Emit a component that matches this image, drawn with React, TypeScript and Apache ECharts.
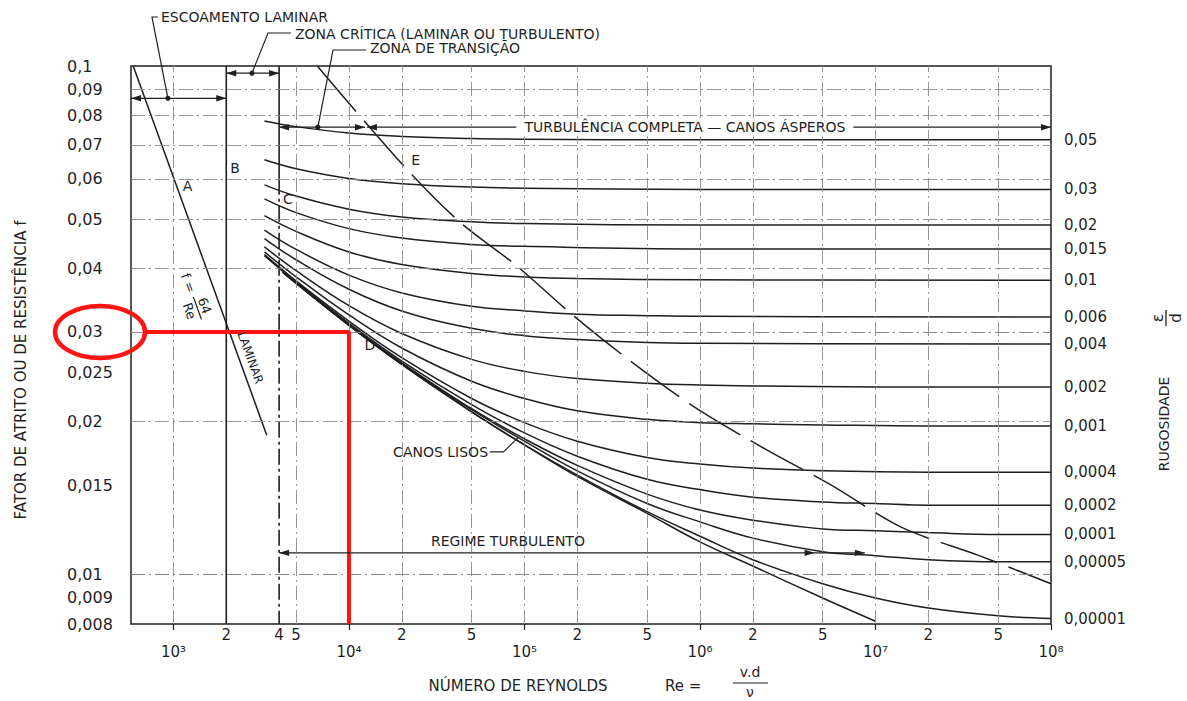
import React, { useEffect, useRef } from "react";
import * as echarts from "echarts";

// ---------- axes ----------
const RE_MIN = 573;
const RE_MAX = 1e8;
const F_MIN = 0.008;
const F_MAX = 0.1;

const fTickValues = [0.008, 0.009, 0.01, 0.015, 0.02, 0.025, 0.03, 0.04, 0.05, 0.06, 0.07, 0.08, 0.09, 0.1];
const reMinorLabels = [2000, 4000, 5000, 2e4, 5e4, 2e5, 5e5, 2e6, 5e6, 2e7, 5e7];
const rePowerLabels = [1e3, 1e4, 1e5, 1e6, 1e7, 1e8];
const fGridLines = [0.009, 0.01, 0.015, 0.02, 0.025, 0.03, 0.04, 0.05, 0.06, 0.07, 0.08, 0.09];
const reGridLines = [1e3, 5e3, 1e4, 2e4, 5e4, 1e5, 2e5, 5e5, 1e6, 2e6, 5e6, 1e7, 2e7, 5e7];

// ---------- relative roughness curves [Re, f] ----------
const roughnessLabels = ["0,05", "0,03", "0,02", "0,015", "0,01", "0,006", "0,004", "0,002", "0,001", "0,0004", "0,0002", "0,0001", "0,00005", "0,00001"];
const rough0050 = [[3300, 0.078], [5000, 0.076], [1e4, 0.0738], [2e4, 0.0727], [5e4, 0.072], [1e5, 0.0718], [1e6, 0.0716], [1e8, 0.0716]];
const rough0030 = [[3300, 0.0654], [5000, 0.0628], [1e4, 0.0601], [2e4, 0.0587], [5e4, 0.0578], [1e5, 0.0575], [1e6, 0.0572], [1e8, 0.0572]];
const rough0020 = [[3300, 0.0584], [5000, 0.0555], [1e4, 0.0523], [2e4, 0.0505], [5e4, 0.0494], [1e5, 0.049], [1e6, 0.0487], [1e8, 0.0487]];
const rough0015 = [[3300, 0.0548], [5000, 0.0515], [1e4, 0.0479], [2e4, 0.0459], [5e4, 0.0446], [1e5, 0.0442], [1e6, 0.0437], [1e8, 0.0437]];
const rough0010 = [[3300, 0.0508], [5000, 0.0473], [1e4, 0.0431], [2e4, 0.0407], [5e4, 0.0391], [1e5, 0.0385], [2e5, 0.0382], [1e6, 0.038], [1e8, 0.0379]];
const rough0006 = [[3300, 0.0476], [5000, 0.0436], [1e4, 0.0388], [2e4, 0.0358], [5e4, 0.0337], [1e5, 0.033], [2e5, 0.0325], [5e5, 0.0323], [1e6, 0.0322], [1e8, 0.0321]];
const rough0004 = [[3300, 0.0458], [5000, 0.0416], [1e4, 0.0364], [2e4, 0.033], [5e4, 0.0305], [1e5, 0.0295], [2e5, 0.029], [5e5, 0.0286], [1e6, 0.0285], [1e8, 0.0284]];
const rough0002 = [[3300, 0.0441], [5000, 0.0396], [1e4, 0.0338], [2e4, 0.0298], [5e4, 0.0265], [1e5, 0.0251], [2e5, 0.0243], [5e5, 0.0238], [1e6, 0.0236], [2e6, 0.0235], [1e7, 0.0234], [1e8, 0.0234]];
const rough0001 = [[3300, 0.0431], [5000, 0.0385], [1e4, 0.0324], [2e4, 0.0279], [5e4, 0.024], [1e5, 0.0222], [2e5, 0.021], [5e5, 0.0202], [1e6, 0.0199], [2e6, 0.0198], [5e6, 0.0197], [2e7, 0.0196], [1e8, 0.0196]];
const rough00004 = [[3300, 0.0426], [5000, 0.0378], [1e4, 0.0315], [2e4, 0.0267], [5e4, 0.0222], [1e5, 0.0199], [2e5, 0.0183], [5e5, 0.017], [1e6, 0.0165], [2e6, 0.0162], [5e6, 0.016], [2e7, 0.0159], [1e8, 0.0159]];
const rough00002 = [[3300, 0.0424], [5000, 0.0376], [1e4, 0.0312], [2e4, 0.0263], [5e4, 0.0216], [1e5, 0.019], [2e5, 0.0171], [5e5, 0.0154], [1e6, 0.0147], [2e6, 0.0142], [5e6, 0.0139], [1e7, 0.0138], [2e7, 0.0137], [1e8, 0.0137]];
const rough00001 = [[4200, 0.0394], [5000, 0.0374], [1e4, 0.031], [2e4, 0.0261], [5e4, 0.0212], [1e5, 0.0185], [2e5, 0.0164], [5e5, 0.0144], [1e6, 0.0134], [2e6, 0.0128], [5e6, 0.0123], [1e7, 0.0122], [2e7, 0.0121], [5e7, 0.012], [1e8, 0.012]];
const rough000005 = [[4200, 0.0394], [5000, 0.0374], [1e4, 0.031], [2e4, 0.026], [5e4, 0.0211], [1e5, 0.0183], [2e5, 0.016], [5e5, 0.0138], [1e6, 0.0127], [2e6, 0.0118], [5e6, 0.0111], [1e7, 0.0109], [2e7, 0.0107], [5e7, 0.0106], [1e8, 0.0106]];
const rough000001 = [[4200, 0.0393], [5000, 0.0374], [1e4, 0.0309], [2e4, 0.0259], [5e4, 0.0209], [1e5, 0.018], [2e5, 0.0157], [5e5, 0.0133], [1e6, 0.0119], [2e6, 0.0107], [5e6, 0.0096], [1e7, 0.009], [2e7, 0.0086], [5e7, 0.0083], [1e8, 0.0082]];
const roughnessCurves = [rough0050, rough0030, rough0020, rough0015, rough0010, rough0006, rough0004, rough0002, rough0001, rough00004, rough00002, rough00001, rough000005, rough000001];

const smoothPipe = [[4200, 0.0393], [5000, 0.0374], [1e4, 0.0309], [2e4, 0.0259], [5e4, 0.0209], [1e5, 0.018], [2e5, 0.0156], [5e5, 0.0132], [1e6, 0.0116], [2e6, 0.0104], [5e6, 0.009], [1e7, 0.0081]];

// laminar line (A), critical zone limits (B, C), complete-turbulence limit (E)
const laminarLine = [[590, 0.1], [3400, 0.0188]];
const lineB = [[2000, 0.1], [2000, 0.008]];
const lineCTop = [[4000, 0.1], [4000, 0.06]];
const lineCBottom = [[4000, 0.06], [4000, 0.008]];
const lineE = [[6600, 0.1], [1e4, 0.0845], [2.2e4, 0.062], [4.3e4, 0.0493], [9e4, 0.0405], [1.9e5, 0.0323], [4.2e5, 0.026], [9.8e5, 0.0211], [2.4e6, 0.0176], [5.6e6, 0.015], [1.4e7, 0.0124], [3.9e7, 0.0109], [1e8, 0.0096]];

// red highlight: f = 0.03 at Re = 10^4
const redPath = [[690, 0.03], [1e4, 0.03], [1e4, 0.008]];

const INK = "#1f1f1f";
const RED = "#ff1414";
const FONT = "DejaVu Sans";

export default function App() {
  const ref = useRef<HTMLDivElement>(null);

  useEffect(() => {
    const el = ref.current;
    if (!el) return;
    const chart = echarts.init(el, undefined, { renderer: "svg" });

    const fmtF = (v: number) => String(Number(Number(v).toPrecision(3))).replace(".", ",");
    const sup: Record<number, string> = { 3: "³", 4: "⁴", 5: "⁵", 6: "⁶", 7: "⁷", 8: "⁸" };
    const fmtMinor = (v: number) => String(Math.round(v / Math.pow(10, Math.floor(Math.log10(v) + 1e-9))));
    const fmtPow = (v: number) => "10" + (sup[Math.round(Math.log10(v))] || "");

    const plain = (data: number[][], extra: any = {}) => ({
      type: "line",
      data,
      symbol: "none",
      showSymbol: false,
      silent: true,
      animation: false,
      lineStyle: { color: INK, width: 1.5 },
      z: 3,
      ...extra,
    });

    const series: any[] = [];
    series.push(
      plain(lineB, {
        lineStyle: { color: INK, width: 1.6 },
        markLine: {
          silent: true,
          symbol: ["none", "none"],
          label: { show: false },
          animation: false,
          lineStyle: { color: "#8a8a8a", width: 0.9, type: [14, 4, 2, 4] },
          data: [
            ...fGridLines.map((v) => ({ yAxis: v })),
            ...reGridLines.map((v) => ({ xAxis: v })),
          ],
        },
      })
    );
    series.push(plain(lineCTop, { lineStyle: { color: INK, width: 1.6 } }));
    series.push(plain(lineCBottom, { lineStyle: { color: INK, width: 1.6, type: [16, 4, 3, 4] } }));
    series.push(plain(laminarLine, { lineStyle: { color: INK, width: 1.5 } }));
    series.push(plain(lineE, { smooth: 0.3, lineStyle: { color: INK, width: 1.5, type: [60, 12] } }));

    roughnessCurves.forEach((data, i) => {
      series.push(
        plain(data, {
          name: roughnessLabels[i],
          smooth: 0.4,
          endLabel: {
            show: true,
            formatter: roughnessLabels[i],
            distance: 13,
            color: INK,
            fontSize: 15,
            fontFamily: FONT,
          },
        })
      );
    });
    series.push(plain(smoothPipe, { smooth: 0.4 }));
    series.push(plain(redPath, { lineStyle: { color: RED, width: 4 }, z: 6 }));

    const option: any = {
      animation: false,
      backgroundColor: "#ffffff",
      textStyle: { fontFamily: FONT, color: INK },
      grid: {
        left: 131,
        top: 66,
        width: 920,
        height: 558,
        show: true,
        borderColor: INK,
        borderWidth: 1.5,
        backgroundColor: "transparent",
      },
      xAxis: [
        {
          type: "log",
          logBase: 10,
          min: RE_MIN,
          max: RE_MAX,
          position: "bottom",
          axisLine: { show: false },
          axisTick: { show: false },
          minorTick: { show: false },
          splitLine: { show: false },
          axisLabel: {
            customValues: reMinorLabels,
            formatter: fmtMinor,
            margin: 3,
            color: INK,
            fontSize: 15,
            fontFamily: FONT,
          },
        },
        {
          type: "log",
          logBase: 10,
          min: RE_MIN,
          max: RE_MAX,
          position: "bottom",
          axisLine: { show: false },
          axisTick: { show: true, customValues: rePowerLabels, length: 6, lineStyle: { color: INK, width: 1.2 } },
          minorTick: { show: false },
          splitLine: { show: false },
          axisLabel: {
            customValues: rePowerLabels,
            formatter: fmtPow,
            margin: 20,
            color: INK,
            fontSize: 15,
            fontFamily: FONT,
          },
        },
      ],
      yAxis: {
        type: "log",
        logBase: 10,
        min: F_MIN,
        max: F_MAX,
        axisLine: { show: false },
        axisTick: { show: false },
        minorTick: { show: false },
        splitLine: { show: false },
        axisLabel: {
          customValues: fTickValues,
          formatter: fmtF,
          align: "left",
          margin: 64,
          color: INK,
          fontSize: 16,
          fontFamily: FONT,
        },
      },
      series,
    };
    chart.setOption(option);

    // ---------- annotations, positioned through the chart's own scales ----------
    const P = (re: number, f: number) =>
      chart.convertToPixel({ xAxisIndex: 0, yAxisIndex: 0 }, [re, f]) as number[];
    const els: any[] = [];
    const Z = 100;
    const seg = (x1: number, y1: number, x2: number, y2: number, w = 1.3, color = INK) =>
      els.push({ type: "line", z: Z, silent: true, shape: { x1, y1, x2, y2 }, style: { stroke: color, lineWidth: w } });
    const poly = (points: number[][], w = 1.2) =>
      els.push({ type: "polyline", z: Z, silent: true, shape: { points }, style: { stroke: INK, lineWidth: w, fill: null } });
    const head = (x: number, y: number, dir: number) =>
      els.push({
        type: "polygon",
        z: Z,
        silent: true,
        shape: { points: [[x, y], [x - 10 * dir, y - 3.2], [x - 10 * dir, y + 3.2]] },
        style: { fill: INK },
      });
    const dot = (x: number, y: number) =>
      els.push({ type: "circle", z: Z, silent: true, shape: { cx: x, cy: y, r: 2.6 }, style: { fill: INK } });
    const txt = (x: number, y: number, text: string, st: any = {}, extra: any = {}) =>
      els.push({
        type: "text",
        z: Z + 1,
        silent: true,
        x,
        y,
        style: { text, fill: INK, fontSize: 14, fontFamily: FONT, align: "left", verticalAlign: "middle", ...st },
        ...extra,
      });
    const dim = (xa: number, xb: number, y: number) => {
      seg(xa, y, xb, y, 1.2);
      head(xa, y, -1);
      head(xb, y, 1);
    };

    // escoamento laminar
    {
      const y = P(1000, 0.0864)[1];
      const xa = P(RE_MIN, 0.0864)[0];
      const xb = P(2000, 0.0864)[0];
      dim(xa, xb, y);
      const d = P(930, 0.0864);
      dot(d[0], d[1]);
      poly([[d[0], d[1]], [152, 17], [158, 17]]);
      txt(161, 17, "ESCOAMENTO LAMINAR");
    }
    // zona crítica
    {
      const y = P(2000, 0.0968)[1];
      dim(P(2000, 0.0968)[0], P(4000, 0.0968)[0], y);
      const d = P(2800, 0.0968);
      dot(d[0], d[1]);
      poly([[d[0], d[1]], [268, 33], [291, 33]]);
      txt(295, 34, "ZONA CRÍTICA (LAMINAR OU TURBULENTO)");
    }
    // zona de transição + turbulência completa
    {
      const y = P(4000, 0.0758)[1];
      const xC = P(4000, 0.0758)[0];
      const xE = P(12500, 0.0758)[0];
      const xR = P(RE_MAX, 0.0758)[0];
      dim(xC, xE - 1, y);
      dim(xE + 1, xR, y);
      const d = P(6650, 0.0758);
      dot(d[0], d[1]);
      poly([[d[0], d[1]], [333, 50], [366, 50]]);
      txt(370, 48, "ZONA DE TRANSIÇÃO");
      const t = P(8.2e5, 0.0758);
      txt(t[0], y, "TURBULÊNCIA COMPLETA — CANOS ÁSPEROS", {
        align: "center",
        backgroundColor: "#ffffff",
        padding: [2, 8, 2, 8],
      });
    }
    // regime turbulento
    {
      const y = P(4000, 0.01104)[1];
      dim(P(4000, 0.01104)[0], P(8.7e6, 0.01104)[0], y);
      head(P(4.5e6, 0.01104)[0], y, 1);
      const t = P(8.05e4, 0.01166);
      txt(t[0], t[1], "REGIME TURBULENTO", { align: "center" });
    }
    // canos lisos
    {
      const t = P(6.2e4, 0.01744);
      txt(t[0], t[1], "CANOS LISOS", { align: "right" });
      const a = P(6.35e4, 0.01744);
      const b = P(7.6e4, 0.01744);
      const c = P(9.2e4, 0.0186);
      poly([a, b, c]);
    }
    // letters
    {
      const a = P(1043, 0.058);
      txt(a[0] + 6, a[1], "A", { fontSize: 14 });
      const b = P(2000, 0.063);
      txt(b[0] + 4, b[1], "B", { fontSize: 14 });
      const c = P(4000, 0.0547);
      txt(c[0] + 4, c[1], "C", { fontSize: 14 });
      const d = P(13150, 0.0283);
      txt(d[0], d[1], "D", { fontSize: 14, align: "center" });
      const e = P(24000, 0.0653);
      txt(e[0], e[1], "E", { fontSize: 14, align: "center" });
    }
    // f = 64/Re and LAMINAR along the laminar line
    {
      const a = P(laminarLine[0][0], laminarLine[0][1]);
      const b = P(laminarLine[1][0], laminarLine[1][1]);
      const ang = Math.atan2(b[1] - a[1], b[0] - a[0]);
      const up = [Math.sin(ang), -Math.cos(ang)];
      const at = (t: number) => [a[0] + (b[0] - a[0]) * t, a[1] + (b[1] - a[1]) * t];
      const p1 = at(0.6);
      els.push({
        type: "group",
        z: Z,
        x: p1[0] - 22 * up[0],
        y: p1[1] - 22 * up[1],
        rotation: -ang,
        silent: true,
        children: [
          { type: "text", z: Z, style: { text: "f =", x: -3, y: 0, fill: INK, fontSize: 13, fontFamily: FONT, align: "right", verticalAlign: "middle" } },
          { type: "line", z: Z, shape: { x1: 2, y1: 0, x2: 26, y2: 0 }, style: { stroke: INK, lineWidth: 1.2 } },
          { type: "text", z: Z, style: { text: "64", x: 14, y: -1, fill: INK, fontSize: 13, fontFamily: FONT, align: "center", verticalAlign: "bottom" } },
          { type: "text", z: Z, style: { text: "Re", x: 14, y: 2, fill: INK, fontSize: 13, fontFamily: FONT, align: "center", verticalAlign: "top" } },
        ],
      });
      const p2 = at(0.8);
      txt(p2[0] + 11 * up[0], p2[1] + 11 * up[1], "LAMINAR", { align: "center", fontSize: 12 }, { rotation: -ang });
    }
    // red highlight circle round the 0,03 label
    {
      const cy = P(RE_MIN, 0.03)[1];
      els.push({
        type: "ellipse",
        z: Z + 2,
        silent: true,
        shape: { cx: 100, cy, rx: 45, ry: 26 },
        style: { fill: "none", stroke: RED, lineWidth: 4.5 },
      });
    }
    // axis titles
    txt(518, 686, "NÚMERO DE REYNOLDS", { align: "center", fontSize: 15 });
    txt(665, 686, "Re =", { fontSize: 15 });
    txt(750, 672, "v.d", { align: "center", fontSize: 14 });
    seg(733, 683, 768, 683, 1.2);
    txt(750, 692, "ν", { align: "center", fontSize: 14 });

    txt(21, 370, "FATOR DE ATRITO OU DE RESISTÊNCIA f", { align: "center", fontSize: 15 }, { rotation: Math.PI / 2 });
    txt(1164, 424, "RUGOSIDADE", { align: "center", fontSize: 14 }, { rotation: Math.PI / 2 });
    els.push({
      type: "group",
      z: Z,
      x: 1166,
      y: 318,
      rotation: Math.PI / 2,
      silent: true,
      children: [
        { type: "text", z: Z, style: { text: "ε", x: 0, y: -1, fill: INK, fontSize: 16, fontFamily: FONT, align: "center", verticalAlign: "bottom" } },
        { type: "line", z: Z, shape: { x1: -8, y1: 0, x2: 8, y2: 0 }, style: { stroke: INK, lineWidth: 1.3 } },
        { type: "text", z: Z, style: { text: "d", x: 0, y: 2, fill: INK, fontSize: 15, fontFamily: FONT, align: "center", verticalAlign: "top" } },
      ],
    });

    chart.setOption({ graphic: { elements: els } });

    return () => chart.dispose();
  }, []);

  return (
    <div
      ref={ref}
      style={{ position: "fixed", left: 0, top: 0, width: 1187, height: 701, background: "#ffffff" }}
    />
  );
}
